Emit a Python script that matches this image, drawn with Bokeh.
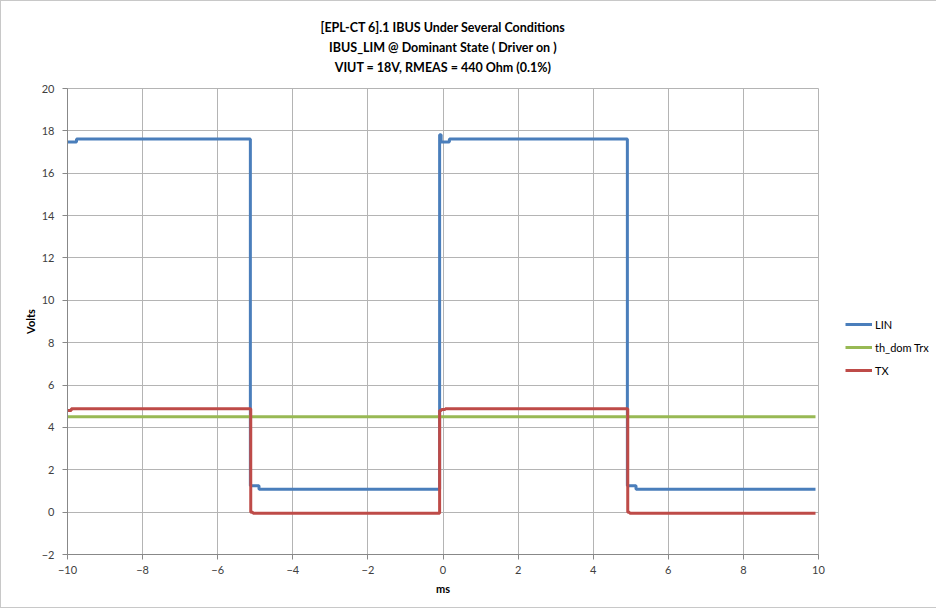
from bokeh.plotting import figure
from bokeh.models import Title, Legend, LegendItem, FixedTicker, Range1d
from bokeh.embed import file_html
from bokeh.resources import INLINE

# ---- data ----
lin_t = [-10, -9.76, -5.13, -4.90, -0.09, -0.05, 0.17, 4.91, 5.14, 9.92]
lin_v = [17.47, 17.62, 1.25, 1.08, 17.82, 17.47, 17.62, 1.25, 1.08, 1.08]

th_t = [-10, 9.92]
th_v = [4.5, 4.5]

tx_t = [-10, -9.9, -5.12, -5.06, -0.09, -0.04, 0.06, 4.92, 4.97, 9.92]
tx_v = [4.8, 4.88, 0.0, -0.05, 4.8, 4.85, 4.88, 0.0, -0.05, -0.05]

x_ticks = list(range(-10, 11, 2))
y_ticks = list(range(-2, 21, 2))

title_lines = [
    "[EPL-CT 6].1 IBUS Under Several Conditions",
    "IBUS_LIM @ Dominant State ( Driver on )",
    "VIUT = 18V, RMEAS = 440 Ohm (0.1%)",
]

FONT = "Lato"

p = figure(frame_width=751, frame_height=466, output_backend="svg",
           toolbar_location=None,
           x_range=Range1d(-10, 10), y_range=Range1d(-2, 20),
           min_border_left=66, min_border_right=115, min_border_top=87,
           min_border_bottom=53)
p.styles = {"border": "1px solid #c8c8c8"}

# spacer closest to the frame
p.add_layout(Title(text=" ", text_font_size="9px", standoff=0), "above")
for line in reversed(title_lines):
    t = Title(text=line, align="center", text_font=FONT, text_font_size="12.5px",
              text_font_style="bold", text_color="#000000", standoff=3)
    p.add_layout(t, "above")

p.xaxis.ticker = FixedTicker(ticks=x_ticks)
p.yaxis.ticker = FixedTicker(ticks=y_ticks)
for ax in (p.xaxis, p.yaxis):
    ax.major_label_text_font = FONT
    ax.major_label_text_font_size = "11px"
    ax.major_label_text_color = "#404040"
    ax.axis_line_color = "#888888"
    ax.major_tick_line_color = "#888888"
    ax.major_tick_out = 5
    ax.major_tick_in = 0
    ax.minor_tick_line_color = None
    ax.axis_label_text_font = FONT
    ax.axis_label_text_font_size = "11px"
    ax.axis_label_text_font_style = "bold"
    ax.axis_label_text_color = "#000000"
p.xaxis.axis_label = "ms"
p.yaxis.axis_label = "Volts"
p.xaxis.major_label_standoff = 6
p.yaxis.major_label_standoff = 8
p.xaxis.axis_label_standoff = 5
p.yaxis.axis_label_standoff = 2

p.grid.grid_line_color = "#b4b4b4"
p.grid.grid_line_width = 1
p.outline_line_color = "#b4b4b4"

r_lin = p.step(lin_t, lin_v, mode="after", line_color="#4a7ebb", line_width=3)
r_th = p.line(th_t, th_v, line_color="#98b954", line_width=3)
r_tx = p.step(tx_t, tx_v, mode="after", line_color="#be4b48", line_width=3)

legend = Legend(items=[LegendItem(label="LIN", renderers=[r_lin]),
                       LegendItem(label="th_dom Trx", renderers=[r_th]),
                       LegendItem(label="TX", renderers=[r_tx])],
                location=(27, 175), orientation="vertical",
                glyph_width=27, glyph_height=18, label_standoff=3, spacing=5,
                padding=2, margin=0, border_line_color=None,
                background_fill_alpha=0,
                label_text_font=FONT, label_text_font_size="11px",
                label_text_color="#000000")
p.add_layout(legend, "right")

open("out.html", "w").write(file_html(p, INLINE))
